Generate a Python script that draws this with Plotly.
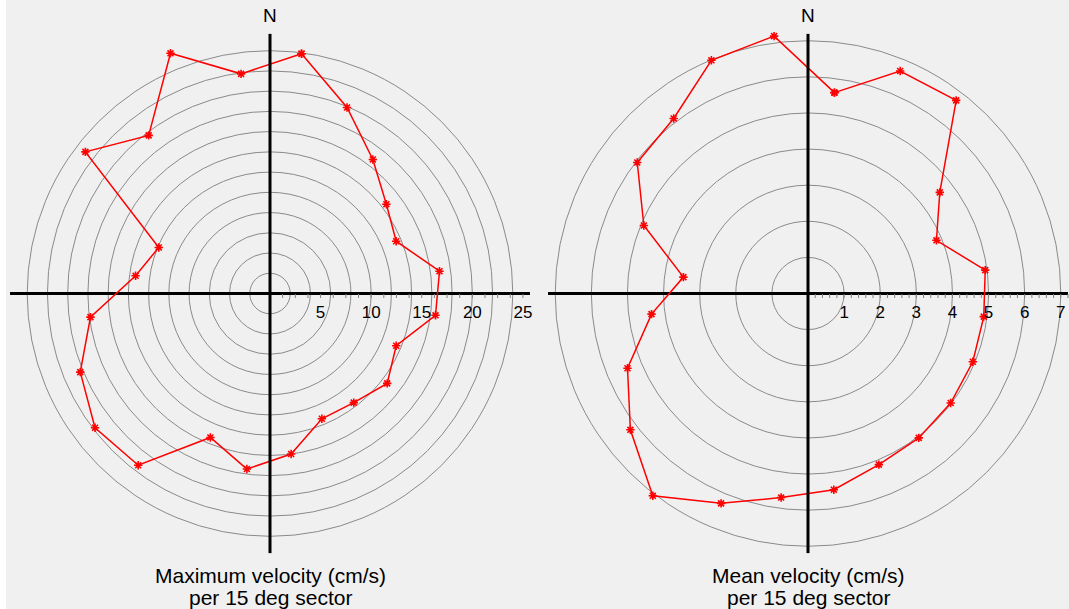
import plotly.graph_objects as go

W, H = 1069, 609

# sector centre directions (degrees clockwise from north)
sector_theta = [7.5, 22.5, 37.5, 52.5, 67.5, 82.5, 97.5, 112.5, 127.5, 142.5, 157.5, 172.5,
                187.5, 202.5, 217.5, 232.5, 247.5, 262.5, 277.5, 292.5, 307.5, 322.5, 337.5, 352.5]

# maximum velocity (cm/s) per sector
max_velocity = [23.9, 19.9, 16.7, 14.5, 13.5, 16.9, 16.5, 13.5, 14.6, 13.6, 13.4, 16.0,
                17.5, 15.4, 21.4, 21.8, 20.3, 17.9, 13.4, 11.9, 23.0, 19.7, 25.7, 21.9]

# mean velocity (cm/s) per sector
mean_velocity = [5.61, 6.67, 6.74, 4.60, 3.85, 4.95, 4.91, 4.94, 4.98, 5.04, 5.13, 5.48,
                 5.70, 6.29, 7.06, 6.20, 5.41, 4.37, 3.48, 4.92, 5.96, 6.11, 6.99, 7.19]

# left chart axis
left_rmax = 25.7
left_grid = [2, 4, 6, 8, 10, 12, 14, 16, 18, 20, 22, 24]
left_ticks = [1.25, 2.5, 3.75, 5, 6.25, 7.5, 8.75, 10, 11.25, 12.5, 13.75, 15,
              16.25, 17.5, 18.75, 20, 21.25, 22.5, 23.75, 25]
left_ticktext = ["", "", "", "5", "", "", "", "10", "", "", "", "15",
                 "", "", "", "20", "", "", "", "25"]

# right chart axis
right_rmax = 7.2
right_grid = [1, 2, 3, 4, 5, 6, 7]
right_ticks = [0.2, 0.4, 0.6, 0.8, 1, 1.2, 1.4, 1.6, 1.8, 2, 2.2, 2.4, 2.6, 2.8, 3,
               3.2, 3.4, 3.6, 3.8, 4, 4.2, 4.4, 4.6, 4.8, 5, 5.2, 5.4, 5.6, 5.8, 6,
               6.2, 6.4, 6.6, 6.8, 7, 7.2]
right_ticktext = ["", "", "", "", "1", "", "", "", "", "2", "", "", "", "", "3",
                  "", "", "", "", "4", "", "", "", "", "5", "", "", "", "", "6",
                  "", "", "", "", "7", ""]

left_title = ["Maximum velocity (cm/s)", "per 15 deg sector"]
right_title = ["Mean velocity (cm/s)", "per 15 deg sector"]

FONT = "Liberation Sans, Arial, sans-serif"
R_PX = 260
CY = 293.5
left_cx, right_cx = 270, 808

fig = go.Figure()


def add_grid_holder(sub):
    # invisible point so that the grid subplot is rendered
    fig.add_trace(go.Scatterpolar(r=[0], theta=[0], mode="markers", subplot=sub,
                                  marker=dict(size=1, color="rgba(0,0,0,0)"),
                                  hoverinfo="skip"))


def add_chart(sub, rmax, values):
    # thick axis cross
    fig.add_trace(go.Scatterpolar(r=[rmax, 0, rmax], theta=[90, 90, 270], mode="lines",
                                  line=dict(color="black", width=3), subplot=sub,
                                  cliponaxis=False, hoverinfo="skip"))
    # data
    fig.add_trace(go.Scatterpolar(r=list(values) + [values[0]],
                                  theta=sector_theta + [sector_theta[0]],
                                  mode="lines+markers", subplot=sub, cliponaxis=False,
                                  line=dict(color="#ff0000", width=1.5),
                                  marker=dict(symbol="asterisk-open", size=7,
                                              line=dict(color="#ff0000", width=1.6))))
    fig.add_trace(go.Scatterpolar(r=[rmax, 0, rmax], theta=[0, 0, 180], mode="lines",
                                  line=dict(color="black", width=3), subplot=sub,
                                  cliponaxis=False, hoverinfo="skip"))


add_grid_holder("polar")
add_chart("polar2", left_rmax, max_velocity)
add_grid_holder("polar3")
add_chart("polar4", right_rmax, mean_velocity)

hidden_ang = dict(showgrid=False, showline=False, showticklabels=False, ticks="",
                  rotation=90, direction="clockwise")


def dom(cx):
    return dict(x=[(cx - R_PX) / W, (cx + R_PX) / W],
                y=[(H - CY - R_PX) / H, (H - CY + R_PX) / H])


def grid_polar(cx, rmax, gridvals):
    return dict(domain=dom(cx), bgcolor="rgba(0,0,0,0)",
                radialaxis=dict(range=[0, rmax], tickmode="array", tickvals=gridvals,
                                showgrid=True, gridcolor="#8a8a8a", gridwidth=1,
                                showticklabels=False, ticks="", showline=False),
                angularaxis=hidden_ang)


def tick_polar(cx, rmax, tickvals, ticktext):
    return dict(domain=dom(cx), bgcolor="rgba(0,0,0,0)",
                radialaxis=dict(range=[0, rmax], tickmode="array", tickvals=tickvals,
                                ticktext=ticktext, showgrid=False, showline=False,
                                ticks="outside", ticklen=4, tickwidth=1, tickcolor="#808080",
                                angle=0, side="clockwise", tickangle=0,
                                tickfont=dict(size=17, color="black", family=FONT)),
                angularaxis=hidden_ang)


annotations = []
for cx, title in [(left_cx, left_title), (right_cx, right_title)]:
    annotations.append(dict(text="N", x=cx / W, y=1 - 16 / H, xref="paper", yref="paper",
                            showarrow=False, font=dict(size=19, color="black", family=FONT),
                            xanchor="center", yanchor="middle"))
    annotations.append(dict(text=title[0], x=cx / W, y=1 - 575 / H, xref="paper", yref="paper",
                            showarrow=False, font=dict(size=21, color="black", family=FONT),
                            xanchor="center", yanchor="middle"))
    annotations.append(dict(text=title[1], x=cx / W, y=1 - 597 / H, xref="paper", yref="paper",
                            showarrow=False, font=dict(size=21, color="black", family=FONT),
                            xanchor="center", yanchor="middle"))

fig.update_layout(
    width=W, height=H, margin=dict(l=0, r=0, t=0, b=0),
    paper_bgcolor="#f0f0f0", plot_bgcolor="#f0f0f0",
    showlegend=False, font=dict(family=FONT),
    polar=grid_polar(left_cx, left_rmax, left_grid),
    polar2=tick_polar(left_cx, left_rmax, left_ticks, left_ticktext),
    polar3=grid_polar(right_cx, right_rmax, right_grid),
    polar4=tick_polar(right_cx, right_rmax, right_ticks, right_ticktext),
    annotations=annotations,
    shapes=[dict(type="rect", xref="paper", yref="paper", x0=0, x1=6 / W, y0=0, y1=1,
                 fillcolor="white", line=dict(width=0), layer="below")],
)

fig.write_html("out.html", config={"displayModeBar": False},
               post_script="document.body.style.margin='0';document.body.style.overflow='hidden';")
